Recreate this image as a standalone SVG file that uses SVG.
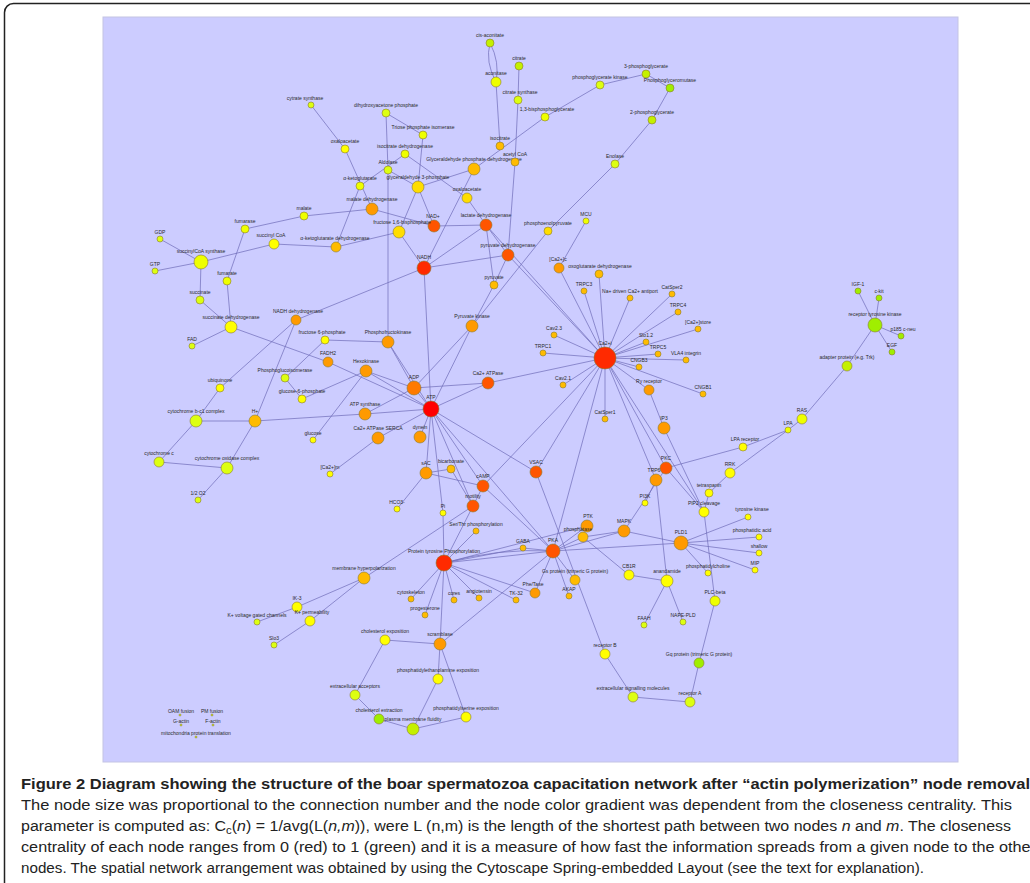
<svg xmlns="http://www.w3.org/2000/svg" width="1030" height="883" viewBox="0 0 1030 883">
<style>
.e path{stroke:#6e6cb8;stroke-width:.7;fill:none}
circle{stroke:#8a7a30;stroke-width:.6}
text.l{font-family:"Liberation Sans",Arial,sans-serif;font-size:5px;fill:#2a2a2a;text-anchor:middle}
.r0{fill:#ff0000}.r1{fill:#ff2a00}.r2{fill:#ff5500}.o1{fill:#ff7a00}.o2{fill:#ff9a00}.o3{fill:#ffbb00}
.y2{fill:#ffdd00}.y0{fill:#ffff00}.y1{fill:#eeff00}.g1{fill:#ddff11}.g2{fill:#c4f000}.g3{fill:#a0ee00}
.cap{font-family:"Liberation Sans",Arial,sans-serif;font-size:14px;fill:#222}
</style>
<rect x="0" y="0" width="1030" height="883" fill="#ffffff"/>
<rect x="4.5" y="3.5" width="1100" height="1000" rx="9" fill="#ffffff" stroke="#222" stroke-width="1.5"/>
<rect x="103" y="17" width="855" height="745" fill="#ccccff" stroke="#c4c4e4" stroke-width="1"/>
<g id="edges" class="e">
<path d="M490 43Q485 62 496 82"/><path d="M490 43Q500 62 496 82"/>
<path d="M496 82L500 146"/><path d="M519 66L518 100"/><path d="M518 100L515 162"/><path d="M515 162L508 255"/>
<path d="M545 117L600 85"/><path d="M600 85L646 74"/><path d="M646 74L670 88"/><path d="M670 88L652 120"/><path d="M652 120L615 164"/><path d="M615 164L548 231"/><path d="M548 231L472 326"/><path d="M474 169L545 117"/>
<path d="M586 221L559 268"/><path d="M559 268L605 358"/><path d="M599 274L605 358"/>
<path d="M311 105L345 149"/><path d="M345 149L372 209"/><path d="M360 186L405 154"/><path d="M360 186L336 247"/>
<path d="M386 113L423 135"/><path d="M386 113L388 170"/><path d="M388 170L388 342"/><path d="M388 170L418 187"/><path d="M423 135L418 187"/>
<path d="M418 187L474 169"/><path d="M418 187L434 226"/><path d="M418 187L399 232"/><path d="M474 169L424 268"/>
<path d="M405 154L467 198"/><path d="M467 198L486 225"/><path d="M372 209L304 216"/><path d="M372 209L434 226"/><path d="M434 226L486 225"/>
<path d="M399 232L336 247"/><path d="M399 232L424 268"/><path d="M424 268L486 225"/><path d="M424 268L508 255"/><path d="M486 225L508 255"/>
<path d="M486 225L494 285"/><path d="M508 255L494 285"/><path d="M486 225L605 358"/><path d="M508 255L605 358"/><path d="M336 247L274 244"/>
<path d="M245 229L304 216"/><path d="M245 229L227 281"/><path d="M160 239L201 262"/><path d="M155 271L201 262"/><path d="M201 262L274 244"/><path d="M201 262L200 300"/>
<path d="M227 281L231 327"/><path d="M200 300L231 327"/><path d="M231 327L192 346"/><path d="M231 327L328 362"/>
<path d="M296 320L424 268"/><path d="M296 320L220 388"/><path d="M296 320L255 421"/><path d="M220 388L196 421"/><path d="M196 421L255 421"/><path d="M196 421L159 462"/>
<path d="M159 462L227 468"/><path d="M227 468L255 421"/><path d="M227 468L198 500"/><path d="M255 421L365 414"/>
<path d="M285 378L302 399"/><path d="M285 378L325 340"/><path d="M302 399L366 371"/><path d="M366 371L313 440"/><path d="M325 340L388 342"/>
<path d="M424 268L431 409"/><path d="M388 342L414 388"/><path d="M388 342L431 409"/><path d="M366 371L414 388"/><path d="M366 371L431 409"/>
<path d="M472 326L414 388"/><path d="M472 326L431 409"/><path d="M472 326L494 285"/><path d="M328 362L431 409"/><path d="M365 414L431 409"/><path d="M365 414L414 388"/>
<path d="M414 388L431 409"/><path d="M414 388L488 383"/><path d="M431 409L488 383"/><path d="M488 383L605 358"/><path d="M431 409L378 438"/><path d="M378 438L330 474"/>
<path d="M431 409L420 437"/><path d="M431 409L426 473"/><path d="M431 409L483 486"/><path d="M431 409L473 506"/><path d="M431 409L443 513"/><path d="M431 409L536 472"/><path d="M431 409L553 551"/>
<path d="M426 473L483 486"/><path d="M426 473L397 509"/><path d="M426 473L451 469"/><path d="M451 469L473 506"/><path d="M483 486L553 551"/><path d="M483 486L473 506"/><path d="M473 506L444 563"/>
<path d="M536 472L605 358"/><path d="M536 472L605 654"/><path d="M483 486L605 358"/><path d="M553 551L605 358"/>
<path d="M605 358L584 291"/><path d="M605 358L630 298"/><path d="M605 358L672 294"/><path d="M605 358L678 312"/><path d="M605 358L698 329"/><path d="M605 358L554 335"/><path d="M605 358L543 353"/><path d="M605 358L646 342"/><path d="M605 358L658 354"/><path d="M605 358L686 360"/><path d="M605 358L639 367"/><path d="M605 358L563 385"/><path d="M605 358L649 390"/><path d="M605 358L703 394"/><path d="M605 358L605 419"/><path d="M605 358L666 468"/><path d="M605 358L656 480"/><path d="M605 358L704 512"/>
<path d="M649 390L664 428"/><path d="M664 428L704 512"/><path d="M666 468L743 447"/><path d="M666 468L704 512"/><path d="M656 480L667 581"/><path d="M656 480L645 503"/>
<path d="M730 473L788 430"/><path d="M788 430L743 447"/><path d="M788 430L802 419"/><path d="M802 419L847 366"/><path d="M847 366L875 325"/>
<path d="M875 325L858 291"/><path d="M875 325L879 298"/><path d="M875 325L901 336"/><path d="M875 325L892 352"/>
<path d="M730 473L709 493"/><path d="M709 493L704 512"/><path d="M704 512L715 601"/><path d="M715 601L699 663"/><path d="M699 663L690 702"/><path d="M690 702L633 697"/><path d="M633 697L605 654"/>
<path d="M553 551L444 563"/><path d="M553 551Q498 548 444 563"/><path d="M553 551L523 548"/><path d="M553 551L587 526"/><path d="M553 551L583 537"/><path d="M553 551L624 531"/><path d="M553 551L681 543"/><path d="M553 551L440 644"/><path d="M553 551L575 580"/><path d="M553 551L569 596"/><path d="M553 551L535 593"/>
<path d="M583 537L629 575"/><path d="M583 537L624 531"/><path d="M629 575L667 581"/><path d="M667 581L644 625"/><path d="M667 581L683 622"/>
<path d="M681 543L759 537"/><path d="M681 543L759 553"/><path d="M681 543L755 570"/><path d="M681 543L708 573"/><path d="M681 543L624 531"/><path d="M748 517L681 543"/><path d="M666 468L624 531"/>
<path d="M444 563L523 548"/><path d="M444 563L476 531"/><path d="M444 563L411 599"/><path d="M444 563L454 600"/><path d="M444 563L479 598"/><path d="M444 563L516 600"/><path d="M444 563L425 615"/><path d="M444 563L440 644"/><path d="M444 563L535 593"/><path d="M444 563L587 526"/><path d="M444 563L443 513"/>
<path d="M364 578L473 506"/><path d="M364 578L297 607"/><path d="M364 578L310 621"/><path d="M297 607L257 622"/><path d="M310 621L274 645"/>
<path d="M440 644L385 640"/><path d="M440 644L438 679"/><path d="M440 644L466 717"/><path d="M385 640L355 695"/><path d="M355 695L379 719"/><path d="M379 719L413 729"/><path d="M413 729L438 679"/><path d="M413 729L466 717"/>
</g>
<g id="n-cisacon"><circle class="g2" cx="490" cy="43" r="4"/><text class="l" x="490" y="37">cis-aconitate</text></g>
<g id="n-citrate"><circle class="g2" cx="519" cy="66" r="4"/><text class="l" x="519" y="60">citrate</text></g>
<g id="n-aconitase"><circle class="y1" cx="496" cy="82" r="5"/><text class="l" x="496" y="75">aconitase</text></g>
<g id="n-citsyn"><circle class="g1" cx="518" cy="100" r="4"/><text class="l" x="520" y="94">citrate synthase</text></g>
<g id="n-bpg13"><circle class="y1" cx="545" cy="117" r="4"/><text class="l" x="547" y="111">1,3-bisphosphoglycerate</text></g>
<g id="n-pgk"><circle class="g1" cx="600" cy="85" r="4"/><text class="l" x="600" y="79">phosphoglycerate kinase</text></g>
<g id="n-pg3"><circle class="g2" cx="646" cy="74" r="4"/><text class="l" x="646" y="68">3-phosphoglycerate</text></g>
<g id="n-pgm"><circle class="g3" cx="670" cy="88" r="4"/><text class="l" x="670" y="82">Phosphoglyceromutase</text></g>
<g id="n-pg2"><circle class="g2" cx="652" cy="120" r="4"/><text class="l" x="652" y="114">2-phosphoglycerate</text></g>
<g id="n-enolase"><circle class="g1" cx="615" cy="164" r="4"/><text class="l" x="615" y="158">Enolase</text></g>
<g id="n-mcu"><circle class="y1" cx="586" cy="221" r="3"/><text class="l" x="586" y="216">MCU</text></g>
<g id="n-pep"><circle class="y2" cx="548" cy="231" r="4"/><text class="l" x="548" y="225">phosphoenolpyruvate</text></g>
<g id="n-cac"><circle class="o2" cx="559" cy="268" r="5"/><text class="l" x="558" y="261">[Ca2+]c</text></g>
<g id="n-ogdh"><circle class="o3" cx="599" cy="274" r="4"/><text class="l" x="600" y="268">oxoglutarate dehydrogenase</text></g>
<g id="n-cytsyn"><circle class="g1" cx="311" cy="105" r="3"/><text class="l" x="305" y="100">cytrate synthase</text></g>
<g id="n-dhap"><circle class="g1" cx="386" cy="113" r="4"/><text class="l" x="386" y="107">dihydroxyacetone phosphate</text></g>
<g id="n-tpi"><circle class="y1" cx="423" cy="135" r="4"/><text class="l" x="423" y="129">Triose phosphate isomerase</text></g>
<g id="n-icdh"><circle class="y1" cx="405" cy="154" r="4"/><text class="l" x="405" y="148">isocitrate dehydrogenase</text></g>
<g id="n-oaa"><circle class="y0" cx="345" cy="149" r="4"/><text class="l" x="345" y="143">oxaloacetate</text></g>
<g id="n-aldolase"><circle class="g1" cx="388" cy="170" r="4"/><text class="l" x="388" y="164">Aldolase</text></g>
<g id="n-akg"><circle class="y1" cx="360" cy="186" r="4"/><text class="l" x="360" y="180">α-ketoglutarate</text></g>
<g id="n-g3p"><circle class="y2" cx="418" cy="187" r="6"/><text class="l" x="418" y="179">glyceraldehyde 3-phosphate</text></g>
<g id="n-gapdh"><circle class="o3" cx="474" cy="169" r="6"/><text class="l" x="474" y="161">Glyceraldehyde phosphate dehydrogenase</text></g>
<g id="n-isocit"><circle class="o3" cx="500" cy="146" r="4"/><text class="l" x="500" y="140">isocitrate</text></g>
<g id="n-acoa"><circle class="o3" cx="515" cy="162" r="4"/><text class="l" x="515" y="156">acetyl CoA</text></g>
<g id="n-n467"><circle class="y2" cx="467" cy="198" r="5"/><text class="l" x="467" y="191">oxaloacetate</text></g>
<g id="n-mdh"><circle class="o2" cx="372" cy="209" r="6"/><text class="l" x="372" y="201">malate dehydrogenase</text></g>
<g id="n-nadp"><circle class="r2" cx="434" cy="226" r="6"/><text class="l" x="433" y="218">NAD+</text></g>
<g id="n-f16bp"><circle class="y2" cx="399" cy="232" r="6"/><text class="l" x="402" y="224">fructose 1,6-bisphosphate</text></g>
<g id="n-ldh"><circle class="r2" cx="486" cy="225" r="6"/><text class="l" x="486" y="217">lactate dehydrogenase</text></g>
<g id="n-pdh"><circle class="r2" cx="508" cy="255" r="6"/><text class="l" x="508" y="247">pyruvate dehydrogenase</text></g>
<g id="n-nadh"><circle class="r1" cx="424" cy="268" r="7"/><text class="l" x="424" y="259">NADH</text></g>
<g id="n-akgdh"><circle class="o3" cx="336" cy="247" r="5"/><text class="l" x="335" y="240">α-ketoglutarate dehydrogenase</text></g>
<g id="n-malate"><circle class="y1" cx="304" cy="216" r="4"/><text class="l" x="304" y="210">malate</text></g>
<g id="n-fumarase"><circle class="y1" cx="245" cy="229" r="4"/><text class="l" x="245" y="223">fumarase</text></g>
<g id="n-gdp"><circle class="g1" cx="160" cy="239" r="3"/><text class="l" x="160" y="234">GDP</text></g>
<g id="n-succoa"><circle class="y0" cx="274" cy="244" r="5"/><text class="l" x="271" y="237">succinyl CoA</text></g>
<g id="n-scs"><circle class="y1" cx="201" cy="262" r="7"/><text class="l" x="201" y="253">succinylCoA synthase</text></g>
<g id="n-gtp"><circle class="g1" cx="155" cy="271" r="3"/><text class="l" x="155" y="266">GTP</text></g>
<g id="n-fumarate"><circle class="y1" cx="227" cy="281" r="4"/><text class="l" x="227" y="275">fumarate</text></g>
<g id="n-succinate"><circle class="g1" cx="200" cy="300" r="4"/><text class="l" x="200" y="294">succinate</text></g>
<g id="n-sdh"><circle class="y0" cx="231" cy="327" r="6"/><text class="l" x="231" y="319">succinate dehydrogenase</text></g>
<g id="n-fad"><circle class="g1" cx="192" cy="346" r="3"/><text class="l" x="192" y="341">FAD</text></g>
<g id="n-nadhdh"><circle class="o2" cx="296" cy="320" r="5"/><text class="l" x="298" y="313">NADH dehydrogenase</text></g>
<g id="n-pgi"><circle class="g1" cx="285" cy="378" r="4"/><text class="l" x="285" y="372">Phosphoglucoisomerase</text></g>
<g id="n-g6p"><circle class="y0" cx="302" cy="399" r="4"/><text class="l" x="302" y="393">glucose-6-phosphate</text></g>
<g id="n-ubiq"><circle class="y0" cx="220" cy="388" r="4"/><text class="l" x="220" y="382">ubiquinone</text></g>
<g id="n-bc1"><circle class="g1" cx="196" cy="421" r="6"/><text class="l" x="196" y="413">cytochrome b-c1 complex</text></g>
<g id="n-hplus"><circle class="o3" cx="255" cy="421" r="6"/><text class="l" x="255" y="413">H+</text></g>
<g id="n-glucose"><circle class="y0" cx="313" cy="440" r="3"/><text class="l" x="313" y="435">glucose</text></g>
<g id="n-cytc"><circle class="g1" cx="159" cy="462" r="5"/><text class="l" x="159" y="455">cytochrome c</text></g>
<g id="n-cox"><circle class="g1" cx="227" cy="468" r="6"/><text class="l" x="227" y="460">cytochrome oxidase complex</text></g>
<g id="n-o2"><circle class="g1" cx="198" cy="500" r="3"/><text class="l" x="198" y="495">1/2 O2</text></g>
<g id="n-pyruvate"><circle class="o3" cx="494" cy="285" r="4"/><text class="l" x="494" y="279">pyruvate</text></g>
<g id="n-pk"><circle class="o2" cx="472" cy="326" r="6"/><text class="l" x="472" y="318">Pyruvate kinase</text></g>
<g id="n-f6p"><circle class="y0" cx="325" cy="340" r="4"/><text class="l" x="322" y="334">fructose 6-phosphate</text></g>
<g id="n-pfk"><circle class="o2" cx="388" cy="342" r="6"/><text class="l" x="388" y="334">Phosphofructokinase</text></g>
<g id="n-fadh2"><circle class="o2" cx="328" cy="362" r="5"/><text class="l" x="328" y="355">FADH2</text></g>
<g id="n-hk"><circle class="o2" cx="366" cy="371" r="6"/><text class="l" x="366" y="363">Hexokinase</text></g>
<g id="n-adp"><circle class="o1" cx="414" cy="388" r="7"/><text class="l" x="414" y="379">ADP</text></g>
<g id="n-caatpase"><circle class="r2" cx="488" cy="383" r="6"/><text class="l" x="488" y="375">Ca2+ ATPase</text></g>
<g id="n-atp"><circle class="r0" cx="431" cy="409" r="8"/><text class="l" x="431" y="399">ATP</text></g>
<g id="n-atpsyn"><circle class="o2" cx="365" cy="414" r="6"/><text class="l" x="365" y="406">ATP synthase</text></g>
<g id="n-serca"><circle class="o2" cx="378" cy="438" r="6"/><text class="l" x="378" y="430">Ca2+ ATPase SERCA</text></g>
<g id="n-dynein"><circle class="o2" cx="420" cy="437" r="6"/><text class="l" x="420" y="429">dynein</text></g>
<g id="n-cam"><circle class="y0" cx="330" cy="474" r="3"/><text class="l" x="330" y="469">[Ca2+]m</text></g>
<g id="n-sac"><circle class="o2" cx="426" cy="473" r="6"/><text class="l" x="426" y="465">sAC</text></g>
<g id="n-bicarb"><circle class="o3" cx="451" cy="469" r="4"/><text class="l" x="451" y="463">bicarbonate</text></g>
<g id="n-camp"><circle class="r2" cx="483" cy="486" r="6"/><text class="l" x="483" y="478">cAMP</text></g>
<g id="n-hco3"><circle class="y0" cx="397" cy="509" r="3"/><text class="l" x="397" y="504">HCO3-</text></g>
<g id="n-motility"><circle class="r2" cx="473" cy="506" r="6"/><text class="l" x="473" y="498">motility</text></g>
<g id="n-pi"><circle class="y0" cx="443" cy="513" r="3"/><text class="l" x="443" y="508">Pi</text></g>
<g id="n-vsac"><circle class="r2" cx="536" cy="472" r="6"/><text class="l" x="536" y="464">VSAC</text></g>
<g id="n-cai"><circle class="r1" cx="605" cy="358" r="11"/><text class="l" x="605" y="345">Ca2+i</text></g>
<g id="n-trpc3"><circle class="o3" cx="584" cy="291" r="3"/><text class="l" x="584" y="286">TRPC3</text></g>
<g id="n-naca"><circle class="o3" cx="630" cy="298" r="3"/><text class="l" x="630" y="293">Na+ driven Ca2+ antiport</text></g>
<g id="n-catsper2"><circle class="o3" cx="672" cy="294" r="3"/><text class="l" x="672" y="289">CatSper2</text></g>
<g id="n-trpc4"><circle class="o3" cx="678" cy="312" r="3"/><text class="l" x="678" y="307">TRPC4</text></g>
<g id="n-castore"><circle class="o3" cx="698" cy="329" r="3"/><text class="l" x="698" y="324">[Ca2+]store</text></g>
<g id="n-cav23"><circle class="o3" cx="554" cy="335" r="3"/><text class="l" x="554" y="330">Cav2.3</text></g>
<g id="n-trpc1"><circle class="o3" cx="543" cy="353" r="3"/><text class="l" x="543" y="348">TRPC1</text></g>
<g id="n-slo"><circle class="o3" cx="646" cy="342" r="3"/><text class="l" x="646" y="337">Slo1.2</text></g>
<g id="n-trpc5"><circle class="o3" cx="658" cy="354" r="3"/><text class="l" x="658" y="349">TRPC5</text></g>
<g id="n-vla4"><circle class="o3" cx="686" cy="360" r="3"/><text class="l" x="686" y="355">VLA4 integrin</text></g>
<g id="n-cng"><circle class="o3" cx="639" cy="367" r="3"/><text class="l" x="639" y="362">CNGB3</text></g>
<g id="n-cav21"><circle class="o3" cx="563" cy="385" r="3"/><text class="l" x="563" y="380">Cav2.1</text></g>
<g id="n-ryr"><circle class="o2" cx="649" cy="390" r="5"/><text class="l" x="649" y="383">Ry receptor</text></g>
<g id="n-cngb1"><circle class="o3" cx="703" cy="394" r="3"/><text class="l" x="703" y="389">CNGB1</text></g>
<g id="n-catsper1"><circle class="o3" cx="605" cy="419" r="3"/><text class="l" x="605" y="414">CatSper1</text></g>
<g id="n-ip3"><circle class="o2" cx="664" cy="428" r="6"/><text class="l" x="664" y="420">IP3</text></g>
<g id="n-lpar"><circle class="y0" cx="743" cy="447" r="4"/><text class="l" x="745" y="441">LPA receptor</text></g>
<g id="n-pkc"><circle class="r2" cx="666" cy="468" r="6"/><text class="l" x="666" y="460">PKC</text></g>
<g id="n-trp6"><circle class="o2" cx="656" cy="480" r="6"/><text class="l" x="654" y="472">TRP6</text></g>
<g id="n-rrk"><circle class="y0" cx="730" cy="473" r="5"/><text class="l" x="730" y="466">RRK</text></g>
<g id="n-pi3k"><circle class="y0" cx="645" cy="503" r="3"/><text class="l" x="645" y="498">PI3K</text></g>
<g id="n-tetra"><circle class="y0" cx="709" cy="493" r="4"/><text class="l" x="709" y="487">tetraspanin</text></g>
<g id="n-pip2"><circle class="y0" cx="704" cy="512" r="5"/><text class="l" x="704" y="505">PIP2 cleavage</text></g>
<g id="n-tyrk"><circle class="y0" cx="748" cy="517" r="3"/><text class="l" x="752" y="511">tyrosine kinase</text></g>
<g id="n-igf1"><circle class="g3" cx="858" cy="291" r="3"/><text class="l" x="858" y="286">IGF-1</text></g>
<g id="n-ckit"><circle class="g3" cx="879" cy="298" r="3"/><text class="l" x="879" y="293">c-kit</text></g>
<g id="n-rtk"><circle class="g3" cx="875" cy="325" r="7"/><text class="l" x="875" y="316">receptor tyrosine kinase</text></g>
<g id="n-p185"><circle class="g3" cx="901" cy="336" r="3"/><text class="l" x="903" y="331">p185 c-neu</text></g>
<g id="n-egf"><circle class="g3" cx="892" cy="352" r="3"/><text class="l" x="892" y="347">EGF</text></g>
<g id="n-adapter"><circle class="g2" cx="847" cy="366" r="5"/><text class="l" x="847" y="359">adapter protein (e.g. Trk)</text></g>
<g id="n-ras"><circle class="y1" cx="802" cy="419" r="5"/><text class="l" x="802" y="412">RAS</text></g>
<g id="n-lpa"><circle class="y1" cx="788" cy="430" r="3"/><text class="l" x="788" y="425">LPA</text></g>
<g id="n-ptk"><circle class="o2" cx="587" cy="526" r="6"/><text class="l" x="588" y="518">PTK</text></g>
<g id="n-phosphatase"><circle class="o3" cx="583" cy="537" r="5"/><text class="l" x="578" y="531">phosphatase</text></g>
<g id="n-mapk"><circle class="o2" cx="624" cy="531" r="6"/><text class="l" x="624" y="523">MAPK</text></g>
<g id="n-pka"><circle class="r2" cx="553" cy="551" r="7"/><text class="l" x="553" y="542">PKA</text></g>
<g id="n-pld"><circle class="o2" cx="681" cy="543" r="7"/><text class="l" x="681" y="534">PLD1</text></g>
<g id="n-pa"><circle class="y0" cx="759" cy="537" r="3"/><text class="l" x="752" y="532">phosphatidic acid</text></g>
<g id="n-shallow"><circle class="y0" cx="759" cy="553" r="3"/><text class="l" x="759" y="548">shallow</text></g>
<g id="n-mip"><circle class="y0" cx="755" cy="570" r="3"/><text class="l" x="755" y="565">MIP</text></g>
<g id="n-gs"><circle class="o3" cx="575" cy="580" r="5"/><text class="l" x="575" y="573">Gs protein (trimeric G protein)</text></g>
<g id="n-penpase"><circle class="o2" cx="535" cy="593" r="5"/><text class="l" x="533" y="586">Phe/Tase</text></g>
<g id="n-akap"><circle class="o3" cx="569" cy="596" r="3"/><text class="l" x="569" y="591">AKAP</text></g>
<g id="n-cb1r"><circle class="y0" cx="629" cy="575" r="5"/><text class="l" x="629" y="568">CB1R</text></g>
<g id="n-anandamide"><circle class="y0" cx="667" cy="581" r="6"/><text class="l" x="667" y="573">anandamide</text></g>
<g id="n-pc"><circle class="y0" cx="708" cy="573" r="3"/><text class="l" x="708" y="568">phosphatidylcholine</text></g>
<g id="n-plcb"><circle class="y1" cx="715" cy="601" r="5"/><text class="l" x="715" y="594">PLC-beta</text></g>
<g id="n-faah"><circle class="g1" cx="644" cy="625" r="3"/><text class="l" x="644" y="620">FAAH</text></g>
<g id="n-napepld"><circle class="g1" cx="683" cy="622" r="3"/><text class="l" x="683" y="617">NAPE-PLD</text></g>
<g id="n-recb"><circle class="y0" cx="605" cy="654" r="5"/><text class="l" x="605" y="647">receptor B</text></g>
<g id="n-gq"><circle class="g3" cx="699" cy="663" r="5"/><text class="l" x="699" y="656">Gq protein (trimeric G protein)</text></g>
<g id="n-esm"><circle class="g1" cx="633" cy="697" r="5"/><text class="l" x="633" y="690">extracellular signalling molecules</text></g>
<g id="n-reca"><circle class="g1" cx="690" cy="702" r="5"/><text class="l" x="690" y="695">receptor A</text></g>
<g id="n-serthr"><circle class="o3" cx="476" cy="531" r="3"/><text class="l" x="476" y="526">Ser/Thr phosphorylation</text></g>
<g id="n-gaba"><circle class="o3" cx="523" cy="548" r="3"/><text class="l" x="523" y="543">GABA</text></g>
<g id="n-ptp"><circle class="r1" cx="444" cy="563" r="8"/><text class="l" x="444" y="553">Protein tyrosine Phosphorylation</text></g>
<g id="n-hyperpol"><circle class="o3" cx="364" cy="578" r="6"/><text class="l" x="364" y="570">membrane hyperpolarization</text></g>
<g id="n-cytosk"><circle class="o3" cx="411" cy="599" r="3"/><text class="l" x="411" y="594">cytoskeleton</text></g>
<g id="n-cores"><circle class="o3" cx="454" cy="600" r="3"/><text class="l" x="454" y="595">cores</text></g>
<g id="n-angio"><circle class="o3" cx="479" cy="598" r="3"/><text class="l" x="479" y="593">angiotensin</text></g>
<g id="n-tk32"><circle class="o3" cx="516" cy="600" r="3"/><text class="l" x="516" y="595">TK-32</text></g>
<g id="n-progest"><circle class="o3" cx="425" cy="615" r="3"/><text class="l" x="425" y="610">progesterone</text></g>
<g id="n-cholexp"><circle class="y0" cx="385" cy="640" r="5"/><text class="l" x="385" y="633">cholesterol exposition</text></g>
<g id="n-scramblase"><circle class="o2" cx="440" cy="644" r="6"/><text class="l" x="440" y="636">scramblase</text></g>
<g id="n-peexp"><circle class="y0" cx="438" cy="679" r="5"/><text class="l" x="438" y="672">phosphatidylethanolamine exposition</text></g>
<g id="n-extacc"><circle class="g1" cx="355" cy="695" r="5"/><text class="l" x="355" y="688">extracellular acceptors</text></g>
<g id="n-cholext"><circle class="g3" cx="379" cy="719" r="5"/><text class="l" x="379" y="712">cholesterol extraction</text></g>
<g id="n-pmfluid"><circle class="g2" cx="413" cy="729" r="6"/><text class="l" x="413" y="721">plasma membrane fluidity</text></g>
<g id="n-psexp"><circle class="y0" cx="466" cy="717" r="5"/><text class="l" x="466" y="710">phosphatidylserine exposition</text></g>
<g id="n-ik3"><circle class="y0" cx="297" cy="607" r="5"/><text class="l" x="297" y="600">IK-3</text></g>
<g id="n-kvgc"><circle class="g1" cx="257" cy="622" r="3"/><text class="l" x="257" y="617">K+ voltage gated channels</text></g>
<g id="n-kperm"><circle class="y0" cx="310" cy="621" r="5"/><text class="l" x="312" y="614">K+ permeability</text></g>
<g id="n-slo3"><circle class="g1" cx="274" cy="645" r="3"/><text class="l" x="274" y="640">Slo3</text></g>
<g id="n-oam"><circle class="g1" cx="180" cy="715" r="1"/><text class="l" x="181" y="713">OAM fusion</text></g>
<g id="n-pmf"><circle class="g1" cx="212" cy="715" r="1"/><text class="l" x="212" y="713">PM fusion</text></g>
<g id="n-gact"><circle class="g1" cx="181" cy="725" r="1"/><text class="l" x="181" y="723">G-actin</text></g>
<g id="n-fact"><circle class="g1" cx="213" cy="725" r="1"/><text class="l" x="213" y="723">F-actin</text></g>
<g id="n-mpt"><circle class="g1" cx="196" cy="737" r="1"/><text class="l" x="196" y="735">mitochondria protein translation</text></g>
<g id="caption">
<text class="cap" x="21" y="789" font-weight="bold" textLength="1009" lengthAdjust="spacingAndGlyphs">Figure 2 Diagram showing the structure of the boar spermatozoa capacitation network after “actin polymerization” node removal</text>
<text class="cap" x="21" y="810" textLength="991" lengthAdjust="spacingAndGlyphs">The node size was proportional to the connection number and the node color gradient was dependent from the closeness centrality. This</text>
<text class="cap" x="21" y="831" textLength="990" lengthAdjust="spacingAndGlyphs">parameter is computed as: C<tspan dy="3" font-size="10">c</tspan><tspan dy="-3">(</tspan><tspan font-style="italic">n</tspan>) = 1/avg(L(<tspan font-style="italic">n,m</tspan>)), were L (n,m) is the length of the shortest path between two nodes <tspan font-style="italic">n</tspan> and <tspan font-style="italic">m</tspan>. The closeness</text>
<text class="cap" x="21" y="852" textLength="1015" lengthAdjust="spacingAndGlyphs">centrality of each node ranges from 0 (red) to 1 (green) and it is a measure of how fast the information spreads from a given node to the other</text>
<text class="cap" x="21" y="873" textLength="903" lengthAdjust="spacingAndGlyphs">nodes. The spatial network arrangement was obtained by using the Cytoscape Spring-embedded Layout (see the text for explanation).</text>
</g>
</svg>
